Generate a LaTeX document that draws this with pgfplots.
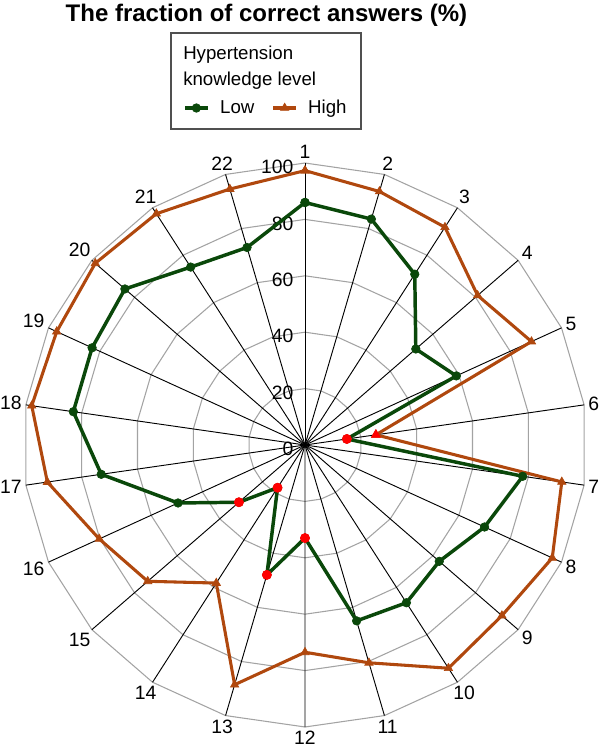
\documentclass[border=0pt]{standalone}
\usepackage{fontspec}
\setmainfont{Liberation Sans}
\usepackage{pgfplots}
\usepackage{pgfplotstable}
\pgfplotsset{compat=1.18}
\usepgfplotslibrary{polar}

\definecolor{lowc}{HTML}{0A480A}
\definecolor{highc}{HTML}{B0480E}
\definecolor{gridc}{HTML}{A3A3A3}
\definecolor{boxc}{HTML}{505050}

% fraction of correct answers per question (1..22), last row closes the loop
\pgfplotstableread{
k v
1 86
2 83.5
3 72
4 52
5 59
6 15
7 78
8 70
9 63
10 66.5
11 65
12 33
13 48
14 18
15 31
16 49.5
17 73
18 83
19 83
20 84.5
21 75
22 73
23 86
}\lowdata

\pgfplotstableread{
k v
1 97.3
2 93.7
3 91.8
4 81
5 88.3
6 25.4
7 92
8 96.4
9 92.4
10 94.1
11 80.5
12 73.5
13 88.6
14 58.2
15 73.8
16 80.2
17 92.3
18 97.9
19 96.8
20 98.4
21 97.5
22 94.6
23 97.3
}\highdata

% questions flagged in red
\pgfplotstableread{
k v
6 15
12 33
13 48
14 18
15 31
}\lowred

\pgfplotstableread{
k v
6 25.4
}\highred

\newcommand{\lblfont}{\fontsize{14.5}{16}\selectfont}

\begin{document}
\begin{tikzpicture}
\useasboundingbox (-228.75pt,-230.25pt) rectangle (221.25pt,333.75pt);

\begin{polaraxis}[
  at={(0,0)}, anchor=center,
  width=423pt, height=423pt, scale only axis,
  xmin=0, xmax=360, ymin=0, ymax=100,
  hide axis, clip=false,
  legend columns=2,
  legend style={draw=none, fill=none, inner sep=0pt,
    at={(0.2837,1.0975)}, anchor=west,
    font=\fontsize{14}{16}\selectfont,
    /tikz/every odd column/.append style={column sep=6pt},
    /tikz/every even column/.append style={column sep=11pt}},
]
% polygon grid
\pgfplotsinvokeforeach{20,40,60,80,100}{
  \draw[gridc, line width=0.8pt] (axis cs:90,#1)
    foreach \k in {1,...,21} { -- (axis cs:{90-\k*360/22},#1) } -- cycle;
}
% spokes
\pgfplotsinvokeforeach{1,...,22}{
  \draw[black, line width=0.7pt] (axis cs:0,0) -- (axis cs:{90-(#1-1)*360/22},100);
}
% radial labels
\pgfplotsinvokeforeach{0,20,...,100}{
  \node[font=\lblfont, anchor=east, inner sep=0pt, xshift=-8.5pt, yshift=-3pt]
    at (axis cs:90,#1) {#1};
}

\addplot[lowc, line width=2.6pt, mark=*, mark size=3.2pt,
  mark options={solid, fill=lowc, line width=0.5pt}]
  table[x expr={90-(\thisrow{k}-1)*360/22}, y=v] {\lowdata};
\addlegendentry{Low}
\addplot[highc, line width=2.3pt, mark=triangle*, mark size=3.6pt,
  mark options={solid, fill=highc, line width=0.5pt}]
  table[x expr={90-(\thisrow{k}-1)*360/22}, y=v] {\highdata};
\addlegendentry{High}

\addplot[forget plot, only marks, red, mark=*, mark size=3.5pt,
  mark options={fill=red}]
  table[x expr={90-(\thisrow{k}-1)*360/22}, y=v] {\lowred};
\addplot[forget plot, only marks, red, mark=triangle*, mark size=4pt,
  mark options={fill=red}]
  table[x expr={90-(\thisrow{k}-1)*360/22}, y=v] {\highred};
\end{polaraxis}

% spoke labels (question numbers), outside the 100 ring
\foreach \k in {1,...,22} {
  \pgfmathsetmacro\a{90-(\k-1)*360/22}
  \pgfmathsetmacro\b{\a+180}
  \node[font=\lblfont, inner sep=1.5pt, anchor=\b] at (\a:213pt) {\k};
}

% title
\node[anchor=base, inner sep=0pt, font=\fontsize{18}{20}\selectfont\bfseries]
  at (-28.9pt,317.5pt) {The fraction of correct answers (\%)};

% legend header and frame
\node[anchor=base west, inner sep=0pt, font=\fontsize{14}{16}\selectfont] at (-91.5pt,288.75pt) {Hypertension};
\node[anchor=base west, inner sep=0pt, font=\fontsize{14}{16}\selectfont] at (-91.5pt,269.25pt) {knowledge level};
\draw[boxc, line width=0.9pt] (-100.5pt,237pt) rectangle (42pt,309pt);
\end{tikzpicture}
\end{document}
